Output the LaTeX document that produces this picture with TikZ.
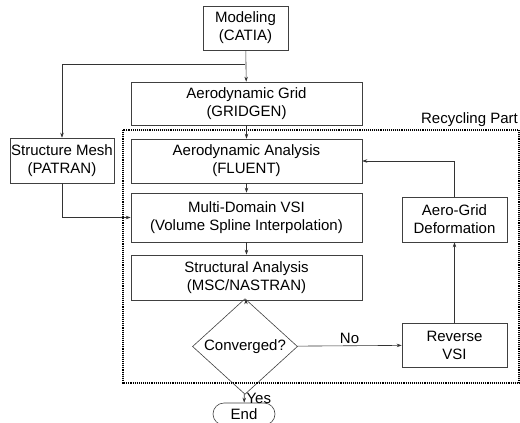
\documentclass[tikz,border=0pt]{standalone}
\usepackage{fontspec}
\setmainfont{Liberation Sans}
\usetikzlibrary{shapes.geometric,arrows.meta}
\begin{document}
\begin{tikzpicture}[x=1pt,y=-1pt,
    font=\fontsize{15}{18}\selectfont,
    box/.style={draw=black!75,line width=0.6pt,align=center,inner sep=0pt},
    decide/.style={draw=black!75,line width=0.6pt,diamond,inner sep=0pt,minimum width=105pt,minimum height=67pt},
    flow/.style={draw=black!80,line width=0.6pt,-{Stealth[length=5pt,width=3.5pt]}}]
  \useasboundingbox (0,0) rectangle (520,423);
  \draw
    (245.5,28) node[box,minimum width=85pt,minimum height=44pt] (model){Modeling\\(CATIA)}
    (246.5,103.5) node[box,minimum width=231pt,minimum height=43pt] (grid){Aerodynamic Grid\\(GRIDGEN)}
    (62,160.5) node[box,minimum width=104pt,minimum height=45pt] (mesh){Structure Mesh\\(PATRAN)}
    (246.5,161) node[box,minimum width=231pt,minimum height=44pt] (fluent){Aerodynamic Analysis\\(FLUENT)}
    (246.5,217.5) node[box,minimum width=231pt,minimum height=49pt] (vsi){Multi-Domain VSI\\(Volume Spline Interpolation)}
    (246.5,277.5) node[box,minimum width=231pt,minimum height=45pt] (nastran){Structural Analysis\\(MSC/NASTRAN)}
    (245,346.5) node[decide] (conv){Converged?}
    (454.5,345) node[box,minimum width=105pt,minimum height=44pt] (rvsi){Reverse\\VSI}
    (454.5,219.5) node[box,minimum width=105pt,minimum height=45pt] (deform){Aero-Grid\\Deformation}
    (244,414) node[box,minimum width=62pt,minimum height=22pt,rounded corners=11pt] (end){End};
  % recycling loop frame
  \draw[densely dotted,line width=1.1pt] (123,130) rectangle (519,383);
  \node[anchor=south east,inner sep=1pt] (rlabel) at (519,128) {Recycling Part};
  \coordinate (split) at (245,64);
  \begin{scope}[flow]
    \draw (model) -- (grid);
    \draw (split) -| (mesh);
    \draw (grid) -- (fluent);
    \draw (fluent) -- (vsi);
    \draw (mesh.south) |- (vsi.west);
    \draw (vsi) -- (nastran);
    \draw (nastran) -- (conv);
    \draw (conv) -- node[above,inner sep=2pt]{No} (rvsi);
    \draw (rvsi) -- (deform);
    \draw (deform.north) |- (fluent.east);
    \draw (conv) -- node[right,pos=0.45,inner sep=2pt]{Yes} (end);
  \end{scope}
\end{tikzpicture}
\end{document}
